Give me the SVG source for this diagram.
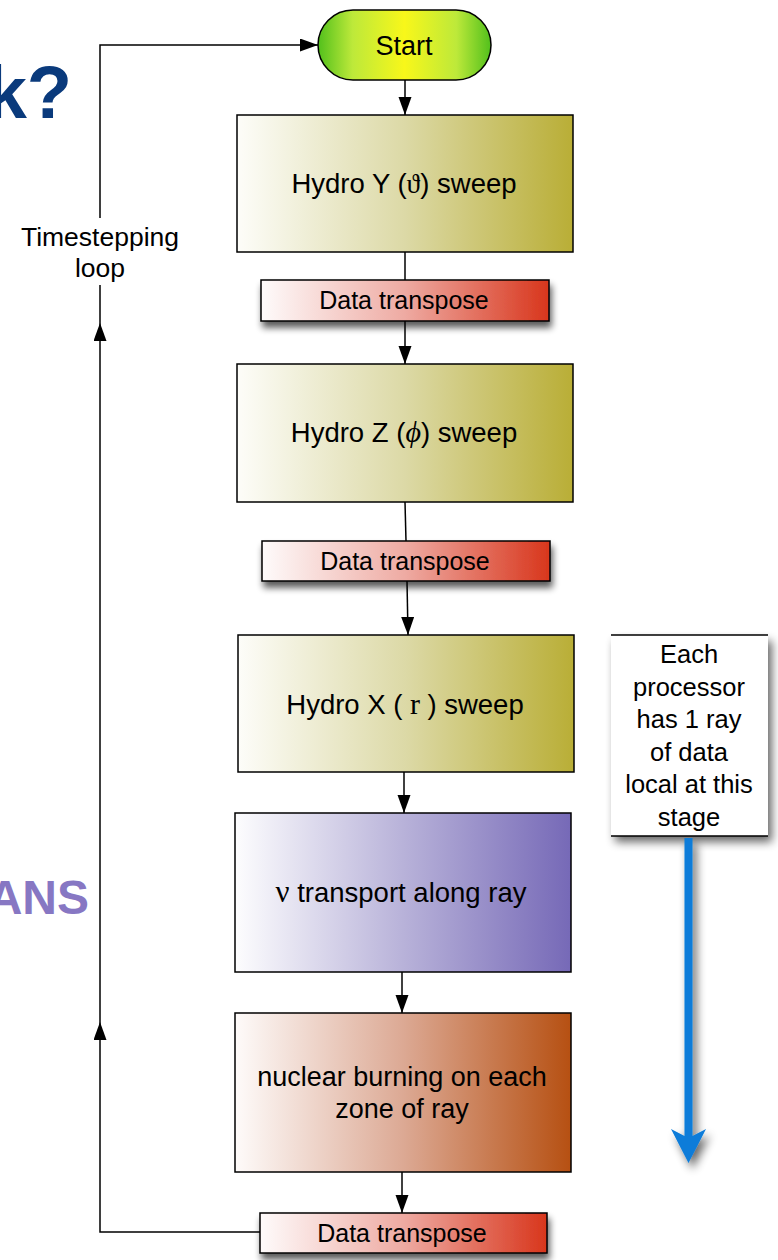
<svg xmlns="http://www.w3.org/2000/svg" width="778" height="1260" viewBox="0 0 778 1260">
  <defs>
    <linearGradient id="gStart" x1="0" y1="0" x2="1" y2="0">
      <stop offset="0" stop-color="#52c01c"/>
      <stop offset="0.2" stop-color="#bde93a"/>
      <stop offset="0.5" stop-color="#f8f71a"/>
      <stop offset="0.8" stop-color="#bde93a"/>
      <stop offset="1" stop-color="#52c01c"/>
    </linearGradient>
    <linearGradient id="gHydro" x1="0" y1="0" x2="1" y2="0">
      <stop offset="0" stop-color="#fdfdf9"/>
      <stop offset="0.5" stop-color="#dcd9a6"/>
      <stop offset="1" stop-color="#b9ae36"/>
    </linearGradient>
    <linearGradient id="gData" x1="0" y1="0" x2="1" y2="0">
      <stop offset="0" stop-color="#fefbfb"/>
      <stop offset="0.5" stop-color="#eeaaa2"/>
      <stop offset="1" stop-color="#d8361c"/>
    </linearGradient>
    <linearGradient id="gNu" x1="0" y1="0" x2="1" y2="0">
      <stop offset="0" stop-color="#fdfdfe"/>
      <stop offset="0.5" stop-color="#b8b2d9"/>
      <stop offset="1" stop-color="#7669b7"/>
    </linearGradient>
    <linearGradient id="gBurn" x1="0" y1="0" x2="1" y2="0">
      <stop offset="0" stop-color="#fefbfa"/>
      <stop offset="0.5" stop-color="#dca994"/>
      <stop offset="1" stop-color="#b65012"/>
    </linearGradient>
    <filter id="shadow" x="-20%" y="-40%" width="140%" height="180%">
      <feGaussianBlur in="SourceAlpha" stdDeviation="3.5"/>
      <feOffset dx="2" dy="6" result="b"/>
      <feComponentTransfer><feFuncA type="linear" slope="0.65"/></feComponentTransfer>
      <feMerge><feMergeNode/><feMergeNode in="SourceGraphic"/></feMerge>
    </filter>
    <filter id="shadowSoft" x="-40%" y="-20%" width="180%" height="140%">
      <feGaussianBlur in="SourceAlpha" stdDeviation="5"/>
      <feOffset dx="4" dy="6" result="b"/>
      <feComponentTransfer><feFuncA type="linear" slope="0.6"/></feComponentTransfer>
      <feMerge><feMergeNode/><feMergeNode in="SourceGraphic"/></feMerge>
    </filter>
    <marker id="arrow" markerUnits="userSpaceOnUse" markerWidth="20" markerHeight="14" refX="18" refY="6.5" orient="auto">
      <path d="M0,0 L18,6.5 L0,13 z" fill="#000"/>
    </marker>
  </defs>
  <style>
    text { font-family: "Liberation Sans", Arial, Helvetica, sans-serif; fill: #000; }
    .lbl { font-size: 27.5px; text-anchor: middle; }
    .lbl27 { font-size: 27px; text-anchor: middle; }
    .dt { font-size: 25px; text-anchor: middle; }
    .box { stroke: #000; stroke-width: 1.5; }
    .conn { fill: none; stroke: #000; stroke-width: 1.5; }
    .sym { font-family: "Liberation Serif", "DejaVu Serif", serif; }
  </style>

  <rect width="778" height="1260" fill="#fff"/>

  <!-- title fragments at the left edge -->
  <text x="72" y="118" font-size="74" font-weight="bold" text-anchor="end" style="fill:#0a3a7c">k?</text>
  <text x="89" y="914" font-size="48" font-weight="bold" text-anchor="end" style="fill:#8777c3">ANS</text>

  <!-- connectors -->
  <g id="connectors">
    <path class="conn" d="M405,80 V115" marker-end="url(#arrow)"/>
    <path class="conn" d="M405,252 V280"/>
    <path class="conn" d="M405,321 V364" marker-end="url(#arrow)"/>
    <path class="conn" d="M405,502 L406,541"/>
    <path class="conn" d="M407,581 L408,635" marker-end="url(#arrow)"/>
    <path class="conn" d="M404,772 V813" marker-end="url(#arrow)"/>
    <path class="conn" d="M402,972 V1013" marker-end="url(#arrow)"/>
    <path class="conn" d="M402,1172 V1213" marker-end="url(#arrow)"/>
    <!-- timestepping loop back to Start -->
    <path class="conn" d="M260,1232 H100 V1022" marker-end="url(#arrow)"/>
    <path class="conn" d="M100,1022 V323" marker-end="url(#arrow)"/>
    <path class="conn" d="M100,323 V285"/>
    <path class="conn" d="M100,218 V45 H318" marker-end="url(#arrow)"/>
  </g>

  <g id="loop-label">
    <text x="100" y="246" font-size="26.5" text-anchor="middle">Timestepping</text>
    <text x="100" y="277" font-size="26.5" text-anchor="middle">loop</text>
  </g>

  <g id="start">
    <rect class="box" x="318" y="10" width="173" height="70" rx="35" ry="35" fill="url(#gStart)"/>
    <text class="lbl27" x="404" y="55">Start</text>
  </g>

  <g id="hydro-y">
    <rect class="box" x="237" y="115" width="336" height="137" fill="url(#gHydro)"/>
    <text class="lbl" x="404" y="193">Hydro Y (<tspan class="sym">ϑ</tspan>) sweep</text>
  </g>

  <g id="transpose-1">
    <rect class="box" x="261" y="280" width="288" height="41" fill="url(#gData)" filter="url(#shadow)"/>
    <text class="dt" x="404" y="309">Data transpose</text>
  </g>

  <g id="hydro-z">
    <rect class="box" x="237" y="364" width="336" height="138" fill="url(#gHydro)"/>
    <text class="lbl" x="404" y="442">Hydro Z (<tspan class="sym" font-style="italic" font-size="30">ϕ</tspan>) sweep</text>
  </g>

  <g id="transpose-2">
    <rect class="box" x="262" y="541" width="288" height="40" fill="url(#gData)" filter="url(#shadow)"/>
    <text class="dt" x="405" y="570">Data transpose</text>
  </g>

  <g id="hydro-x">
    <rect class="box" x="238" y="635" width="336" height="137" fill="url(#gHydro)"/>
    <text class="lbl" x="405" y="714">Hydro X (<tspan class="sym" font-size="30"> r </tspan>) sweep</text>
  </g>

  <g id="nu-transport">
    <rect class="box" x="235" y="813" width="336" height="159" fill="url(#gNu)"/>
    <text class="lbl" x="401" y="902"><tspan class="sym" font-size="31">ν</tspan>  transport along ray</text>
  </g>

  <g id="burning">
    <rect class="box" x="235" y="1013" width="336" height="159" fill="url(#gBurn)"/>
    <text class="lbl27" x="402" y="1086">nuclear burning on each</text>
    <text class="lbl27" x="402" y="1118">zone of ray</text>
  </g>

  <g id="transpose-3">
    <rect class="box" x="260" y="1213" width="287" height="40" fill="url(#gData)" filter="url(#shadow)"/>
    <text class="dt" x="402" y="1242">Data transpose</text>
  </g>

  <g id="ray-note">
    <rect x="611" y="635" width="157" height="201" fill="#fff" filter="url(#shadowSoft)"/>
    <path d="M611,635 H768 M611,836 H768" stroke="#000" stroke-width="1.5"/>
    <g font-size="25.5" text-anchor="middle">
      <text x="689" y="663">Each</text>
      <text x="689" y="696">processor</text>
      <text x="689" y="728">has 1 ray</text>
      <text x="689" y="761">of data</text>
      <text x="689" y="793">local at this</text>
      <text x="689" y="826">stage</text>
    </g>
  </g>

  <g id="ray-arrow" filter="url(#shadowSoft)">
    <path d="M684.5,838 H692.5 V1136 L706,1129 L688.5,1163 L671,1129 L684.5,1136 Z" fill="#0a7bd9"/>
  </g>
</svg>
